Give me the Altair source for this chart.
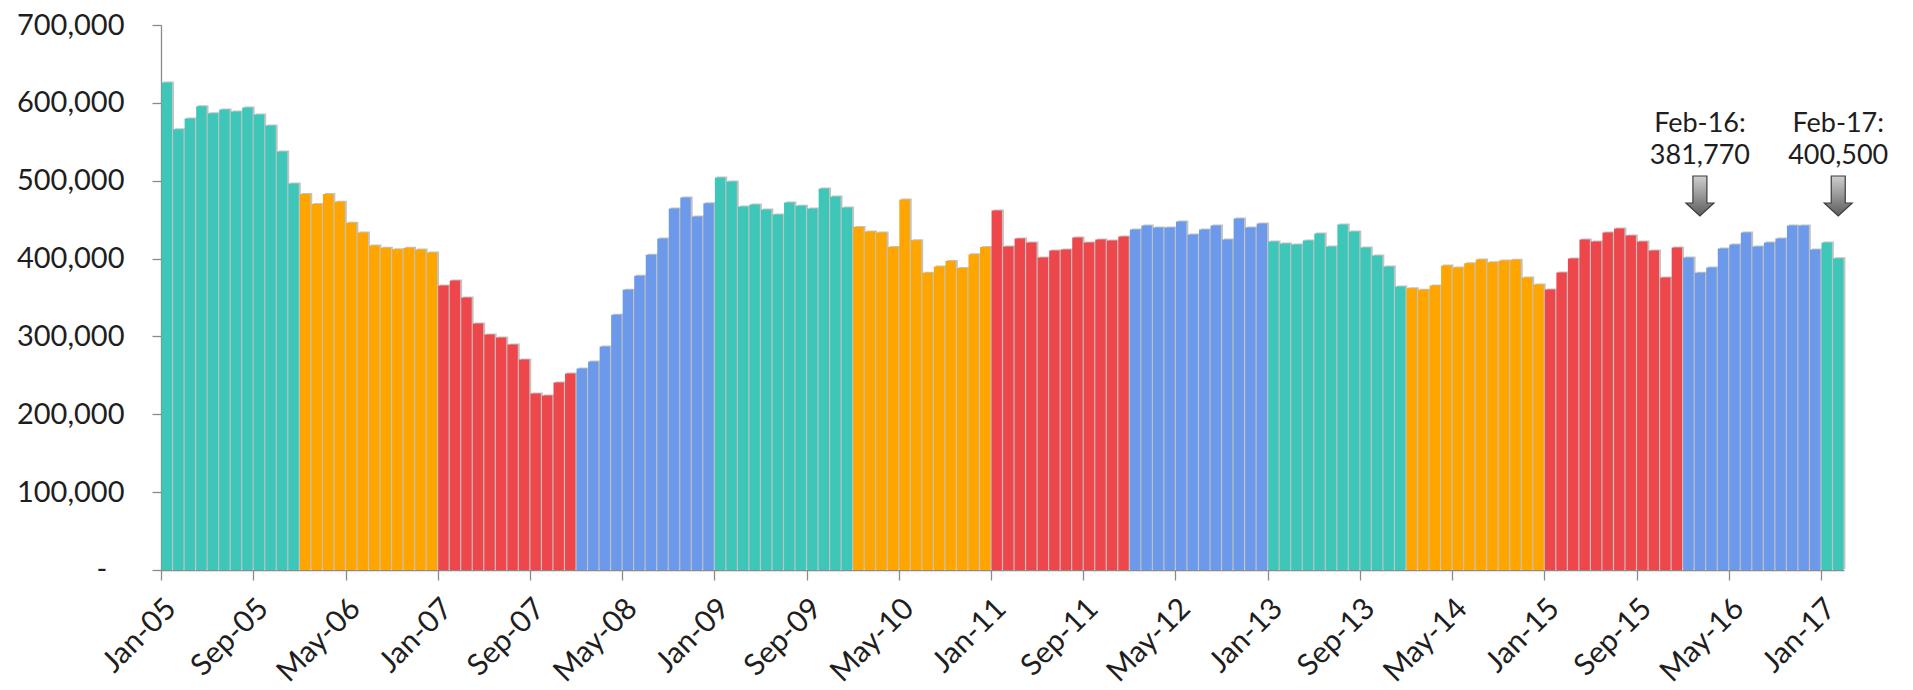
import altair as alt
import pandas as pd

# ---- data ----
month_names = ["Jan", "Feb", "Mar", "Apr", "May", "Jun",
               "Jul", "Aug", "Sep", "Oct", "Nov", "Dec"]
years = [2005, 2006, 2007, 2008, 2009, 2010, 2011, 2012, 2013, 2014, 2015, 2016, 2017]

v2005 = [626000, 566000, 580000, 595500, 586500, 591600, 589000, 594000, 585000, 571000, 537600, 496500]
v2006 = [483000, 470000, 482800, 473000, 446000, 433500, 416800, 414000, 412000, 413900, 411700, 407800]
v2007 = [365400, 371800, 350000, 316600, 302400, 298600, 289600, 270300, 226600, 224000, 240700, 252300]
v2008 = [258700, 267700, 287000, 328000, 360000, 378000, 405000, 425800, 464400, 478500, 454000, 471000]
v2009 = [504000, 499000, 467000, 469500, 463000, 456700, 472000, 468000, 464400, 490000, 479800, 465700]
v2010 = [440400, 434800, 433500, 415000, 476000, 423600, 381700, 389800, 397000, 388000, 405600, 415000]
v2011 = [461800, 415500, 425800, 420700, 401400, 410400, 411700, 427000, 420700, 424500, 423300, 428400]
v2012 = [437400, 442500, 440000, 440000, 447700, 431000, 437400, 442500, 424500, 451500, 440000, 445000]
v2013 = [422000, 419400, 418000, 423300, 432200, 415500, 443800, 434800, 414200, 404000, 389800, 364000]
v2014 = [362000, 359900, 365400, 391000, 388500, 394000, 398800, 395400, 397500, 398400, 375700, 366700]
v2015 = [360300, 382000, 400000, 424500, 422000, 433500, 438600, 429600, 422000, 410400, 375700, 414200]
v2016 = [401400, 381770, 388500, 413000, 418000, 433500, 415500, 420700, 425800, 442500, 442500, 411700]
v2017 = [420700, 400500]
yearly_values = [v2005, v2006, v2007, v2008, v2009, v2010, v2011, v2012,
                 v2013, v2014, v2015, v2016, v2017]

year_palette = ["#3EC7B9", "#FFA500", "#EE474B", "#6D99EA"]

tick_labels = ["Jan-05", "Sep-05", "May-06", "Jan-07", "Sep-07", "May-08", "Jan-09",
               "Sep-09", "May-10", "Jan-11", "Sep-11", "May-12", "Jan-13", "Sep-13",
               "May-14", "Jan-15", "Sep-15", "May-16", "Jan-17"]
y_ticks = [0, 100000, 200000, 300000, 400000, 500000, 600000, 700000]
zero_label = ["-"]

ann_months = ["Feb-16", "Feb-17"]
ann_values = [381770, 400500]
ann_texts = ["381,770", "400,500"]

# ---- build table ----
rows = []
for yr, vals in zip(years, yearly_values):
    for m, v in zip(month_names, vals):
        rows.append({"month": f"{m}-{yr % 100:02d}", "value": v, "year": str(yr)})
df = pd.DataFrame(rows)
month_order = list(df["month"])

ann = pd.DataFrame({
    "month": ann_months,
    "value": ann_values,
    "label": [f"{m}:\n{t}" for m, t in zip(ann_months, ann_texts)],
})
zero_df = pd.DataFrame({"value": [0], "label": zero_label})

FONT = "Lato"
AXIS_GREY = "#8a8a8a"
TEXT = "#1e1e1e"

x_enc = alt.X(
    "month:N",
    sort=month_order,
    scale=alt.Scale(paddingInner=0.1, paddingOuter=0.05),
    axis=alt.Axis(
        title=None,
        values=tick_labels,
        bandPosition=0,
        labelOverlap=False,
        labelFlush=False,
        labelBound=False,
    ),
)

y_scale = alt.Scale(domain=[0, 700000], nice=False)
y_enc = alt.Y(
    "value:Q",
    scale=y_scale,
    axis=alt.Axis(
        title=None,
        values=y_ticks,
        grid=False,
        labelExpr="datum.value == 0 ? '' : format(datum.value, ',')",
    ),
)

color_range = [year_palette[i % 4] for i in range(len(years))]

shadow = alt.Chart(df).mark_bar(
    color="#777777", opacity=0.45, xOffset=2, yOffset=-1
).encode(x=x_enc, y=y_enc)

bars = alt.Chart(df).mark_bar().encode(
    x=x_enc,
    y=y_enc,
    color=alt.Color("year:N",
                    scale=alt.Scale(domain=[str(y) for y in years], range=color_range),
                    legend=None),
)

# accounting-style "-" label for zero, set in from the other tick labels
zero_text = alt.Chart(zero_df).mark_text(
    font=FONT, fontSize=29, color=TEXT, align="center", baseline="middle",
).encode(
    x=alt.value(-59),
    y=alt.Y("value:Q", scale=y_scale),
    text="label:N",
)

labels = alt.Chart(ann).mark_text(
    font=FONT, fontSize=27, color=TEXT, align="center", baseline="alphabetic",
    lineBreak="\n", lineHeight=31.5,
).encode(
    x=alt.X("month:N", sort=month_order),
    y=alt.value(107),
    text="label:N",
)

arrow_path = "M -0.35 -1 L 0.35 -1 L 0.35 0.35 L 0.7 0.35 L 0 1 L -0.7 0.35 L -0.35 0.35 Z"
arrows = alt.Chart(ann).mark_point(
    shape=arrow_path,
    size=1600,
    filled=True,
    opacity=1,
    fill={"gradient": "linear",
          "stops": [{"offset": 0, "color": "#cfcfcf"},
                    {"offset": 1, "color": "#5c5c5c"}],
          "x1": 0, "y1": 0, "x2": 0, "y2": 1},
    stroke="#3c3c3c",
    strokeWidth=1.2,
).encode(
    x=alt.X("month:N", sort=month_order),
    y=alt.value(171),
)

chart = alt.layer(shadow, bars, zero_text, labels, arrows).properties(
    width=1683,
    height=545,
    autosize=alt.AutoSizeParams(type="none"),
    padding={"left": 153, "top": 17, "right": 50, "bottom": 119},
).configure_view(
    strokeWidth=0,
    stroke="transparent",
).configure_axis(
    labelFont=FONT,
    labelColor=TEXT,
    tickColor=AXIS_GREY,
    domainColor=AXIS_GREY,
    domainWidth=1.3,
    tickWidth=1.3,
).configure_axisX(
    labelAngle=-45,
    labelAlign="right",
    labelBaseline="top",
    labelFontSize=30,
    labelPadding=13,
    labelOffset=-6,
    tickSize=10,
).configure_axisY(
    labelFontSize=29,
    labelPadding=28,
    tickSize=9,
)

chart.save("out.html", embed_options={"renderer": "svg", "actions": False})
